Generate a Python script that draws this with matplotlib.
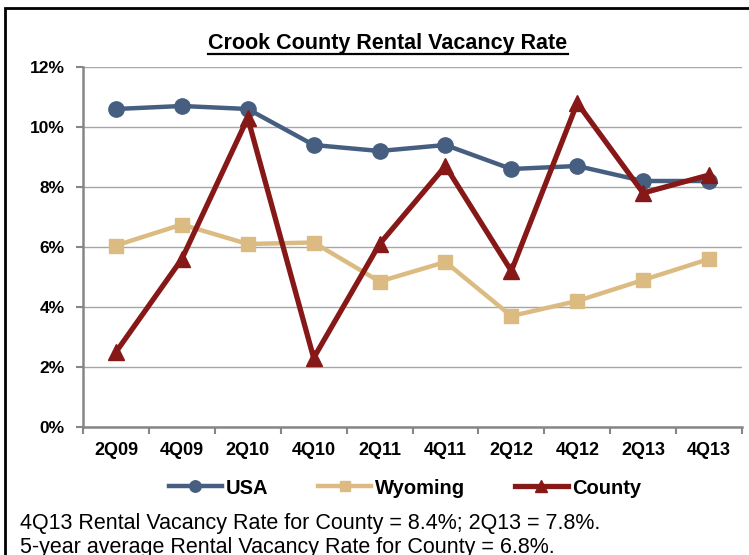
import matplotlib
matplotlib.use("Agg")
from matplotlib import pyplot as plt
from matplotlib.lines import Line2D
from matplotlib.patches import Rectangle

plt.rcParams['font.family'] = ['Liberation Sans', 'DejaVu Sans']

quarters = ["2Q09", "4Q09", "2Q10", "4Q10", "2Q11", "4Q11", "2Q12", "4Q12", "2Q13", "4Q13"]
usa = [10.6, 10.7, 10.6, 9.4, 9.2, 9.4, 8.6, 8.7, 8.2, 8.2]
wyoming = [6.05, 6.75, 6.1, 6.15, 4.85, 5.5, 3.7, 4.2, 4.9, 5.6]
county = [2.5, 5.6, 10.3, 2.3, 6.1, 8.7, 5.2, 10.8, 7.8, 8.4]
yticks = [0, 2, 4, 6, 8, 10, 12]

fig = plt.figure(figsize=(7.49, 5.55), dpi=100)
ax = fig.add_axes([83/749, 1-427/555, (742-83)/749, (427-67)/555])

x = list(range(len(quarters)))
ax.plot(x, usa, color='#465f80', lw=3.2, marker='o', ms=11, label='USA', zorder=3)
ax.plot(x, wyoming, color='#dcbb82', lw=3.2, marker='s', ms=10, label='Wyoming', zorder=3)
ax.plot(x, county, color='#861818', lw=3.8, marker='^', ms=11, label='County', zorder=4)

ax.set_xlim(-0.5, len(quarters) - 0.5)
ax.set_ylim(0, 12)
ax.set_yticks(yticks)
ax.set_yticklabels([f"{v}%" for v in yticks], fontsize=12.5, fontweight='bold')
ax.yaxis.grid(True, color='#a6a6a6', lw=1)
ax.set_axisbelow(True)

ax.set_xticks([i - 0.5 for i in range(len(quarters) + 1)])
ax.set_xticklabels([])
ax.set_xticks(x, minor=True)
ax.set_xticklabels(quarters, minor=True, fontsize=13, fontweight='bold')
ax.tick_params(axis='x', which='minor', length=0, pad=11)
ax.tick_params(axis='x', which='major', length=5, color='#868686', width=1.5)
ax.tick_params(axis='y', length=5, color='#868686', width=1.5, pad=8)

for s in ['top', 'right']:
    ax.spines[s].set_visible(False)
for s in ['left', 'bottom']:
    ax.spines[s].set_color('#868686')
    ax.spines[s].set_linewidth(1.8)

# title with underline
title = fig.text(388/749, 1-43/555, "Crook County Rental Vacancy Rate", ha='center', va='center',
                 fontsize=15.5, fontweight='bold')
fig.canvas.draw()
bb = title.get_window_extent().transformed(fig.transFigure.inverted())
fig.add_artist(Line2D([bb.x0, bb.x1], [bb.y0 - 0.001, bb.y0 - 0.001], color='black', lw=1.6))

leg = fig.legend(loc='center', bbox_to_anchor=(405/749, 1-488/555), ncol=3, frameon=False,
                 prop={'size': 14.5, 'weight': 'bold'}, handlelength=2.6, handletextpad=0.2,
                 columnspacing=2.5, markerscale=0.75)

fig.text(20/749, 1-523/555, "4Q13 Rental Vacancy Rate for County = 8.4%; 2Q13 = 7.8%.",
         fontsize=15.5, va='center')
fig.text(20/749, 1-548/555, "5-year average Rental Vacancy Rate for County = 6.8%.",
         fontsize=15.5, va='center')

# outer frame
fig.add_artist(Rectangle((5/749, -0.05), 1.0, 1-8/555 + 0.05, transform=fig.transFigure,
                         fill=False, edgecolor='black', lw=2))

fig.savefig("out.png", dpi=100)
